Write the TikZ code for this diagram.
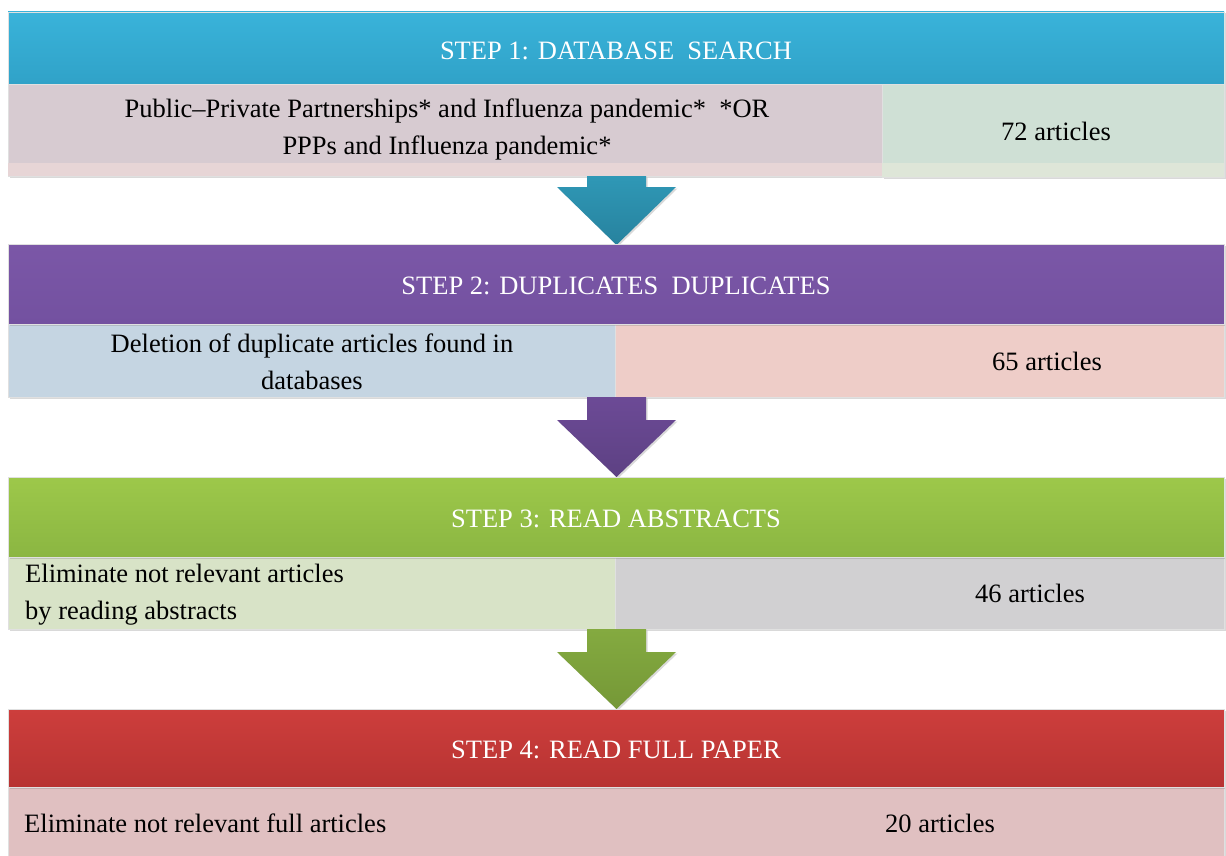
\documentclass[tikz,border=0pt]{standalone}
\usepackage{fontspec}
\setmainfont{Liberation Serif}
\usetikzlibrary{shadows}
\definecolor{hAt}{HTML}{39B3DA}\definecolor{hAb}{HTML}{30A2C8}
\definecolor{hBt}{HTML}{7B57A7}\definecolor{hBb}{HTML}{7351A0}
\definecolor{hCt}{HTML}{9DC84A}\definecolor{hCb}{HTML}{8BB642}
\definecolor{hDt}{HTML}{CD3E3C}\definecolor{hDb}{HTML}{B73332}
\definecolor{rAl}{HTML}{D7CBD1}\definecolor{rAls}{HTML}{E7D5D6}
\definecolor{rAr}{HTML}{CFE0D5}\definecolor{rArs}{HTML}{DEE6D8}
\definecolor{rBl}{HTML}{C5D5E2}\definecolor{rBr}{HTML}{EECDC8}
\definecolor{rCl}{HTML}{D8E3C7}\definecolor{rCr}{HTML}{D1D0D2}
\definecolor{rD}{HTML}{E0C0C1}
\definecolor{aAt}{HTML}{2F98B6}\definecolor{aAb}{HTML}{27829E}
\definecolor{aBt}{HTML}{6C4A96}\definecolor{aBb}{HTML}{5D4183}
\definecolor{aCt}{HTML}{84AA40}\definecolor{aCb}{HTML}{759837}
\newcommand\blockarrow[4]{%
  \shade[#4, drop shadow={shadow xshift=1.5pt,shadow yshift=-1.5pt,opacity=.3}]
    (587,#1) -- (646,#1) -- (646,#2) -- (676,#2) -- (616.5,#3) -- (557,#2) -- (587,#2) -- cycle;}
\begin{document}
\begin{tikzpicture}[x=1pt,y=-1pt,
  box/.style={rectangle, inner sep=0pt, outer sep=0pt, anchor=north west, draw=black!12, line width=0.6pt,
    drop shadow={shadow xshift=1.5pt,shadow yshift=-1.5pt,opacity=.3}},
  hdr/.style 2 args={box, top color=#1, bottom color=#2},
  cell/.style={box, fill=#1},
  title/.style={text=white, font=\fontsize{26.5}{30}\selectfont},
  body/.style={text=black, font=\fontsize{26.5}{37}\selectfont, align=center, inner sep=0pt},
  lbody/.style={body, align=left, anchor=west}
]
\useasboundingbox (0,0) rectangle (1226,856);
% ---------- step 1
\node[cell=rAl, minimum width=874pt, minimum height=92pt] (l1) at (8,84) {};
\fill[rAls] (8.3,163) rectangle (881.7,175.7);
\node[cell=rAr, minimum width=342pt, minimum height=93pt] (r1) at (882,84) {};
\fill[rArs] (882.3,163) rectangle (1223.7,176.7);
\node[hdr={hAt}{hAb}, minimum width=1216pt, minimum height=72pt] (h1) at (8,12) {};
\node[title] (t1) at ([yshift=-3pt]h1.center) {STEP 1: DATABASE\ \ SEARCH};
\node[body] (x1) at (447,129) {Public–Private Partnerships* and Influenza pandemic*\ \ *OR\\PPPs and Influenza pandemic*};
\node[body] (y1) at (1056,131) {72 articles};
\blockarrow{176}{187}{245}{top color=aAt, bottom color=aAb}
% ---------- step 2
\node[cell=rBl, minimum width=607pt, minimum height=73pt] (l2) at (8,324) {};
\node[cell=rBr, minimum width=609pt, minimum height=73pt] (r2) at (615,324) {};
\node[hdr={hBt}{hBb}, minimum width=1216pt, minimum height=80pt] (h2) at (8,244) {};
\node[title] (t2) at ([yshift=-2pt]h2.center) {STEP 2: DUPLICATES\ \ DUPLICATES};
\node[body] (x2) at (312,362) {Deletion of duplicate articles found in\\databases};
\node[body] (y2) at (1047,361) {65 articles};
\blockarrow{397}{420}{477}{top color=aBt, bottom color=aBb}
% ---------- step 3
\node[cell=rCl, minimum width=607pt, minimum height=72pt] (l3) at (8,557) {};
\node[cell=rCr, minimum width=609pt, minimum height=72pt] (r3) at (615,557) {};
\node[hdr={hCt}{hCb}, minimum width=1216pt, minimum height=80pt] (h3) at (8,477) {};
\node[title] (t3) at ([yshift=-2pt]h3.center) {STEP 3: READ ABSTRACTS};
\node[lbody] (x3) at (25,595) {Eliminate not relevant articles\\by reading abstracts};
\node[body] (y3) at (1030,593) {46 articles};
\blockarrow{629}{652}{709}{top color=aCt, bottom color=aCb}
% ---------- step 4
\node[cell=rD, minimum width=1216pt, minimum height=70pt] (l4) at (8,787) {};
\node[hdr={hDt}{hDb}, minimum width=1216pt, minimum height=78pt] (h4) at (8,709) {};
\node[title] (t4) at ([yshift=-2pt]h4.center) {STEP 4: READ FULL PAPER};
\node[lbody] (x4) at (24,823) {Eliminate not relevant full articles};
\node[body] (y4) at (940,823) {20 articles};
\end{tikzpicture}
\end{document}
